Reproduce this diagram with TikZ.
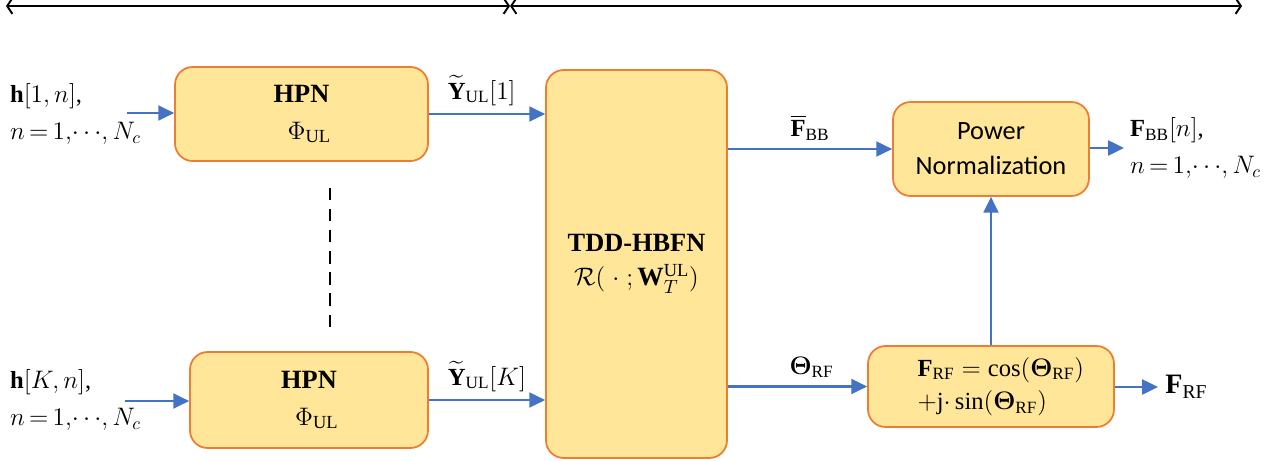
\documentclass[tikz,border=0pt]{standalone}
\usepackage{amsmath}
\usepackage{fontspec}
\setmainfont{Liberation Serif}
\newfontfamily\pnfont{Carlito}
\usepackage{xcolor}
\usetikzlibrary{arrows.meta}
\definecolor{boxfill}{HTML}{FFE699}
\definecolor{boxline}{HTML}{ED7D31}
\definecolor{sigblue}{HTML}{4472C4}

\begin{document}
\begin{tikzpicture}[x=0.02cm, y=-0.02cm, font=\fontsize{14}{17}\selectfont,
    blk/.style={draw=boxline, fill=boxfill, line width=1pt, rounded corners=10pt, align=center},
    sig/.style={-{Triangle[length=9pt,width=8.5pt]}, draw=sigblue, line width=1.2pt},
    spanline/.style={{Straight Barb[length=3pt,width=9pt]}-{Straight Barb[length=3pt,width=9pt]}, line width=1.1pt}]
    \useasboundingbox (0,0) rectangle (1265,460);

    % Span arrows on top
    \coordinate (spanL) at (6,6);
    \coordinate (spanM) at (510,6);
    \coordinate (spanR) at (1242,6);
    \draw[spanline] (spanL) -- (spanM);
    \draw[spanline] (spanM) -- (spanR);

    % HPN blocks
    \node[blk, minimum width=5.06cm, minimum height=1.88cm, font=\fontsize{15}{21}\selectfont] (hpnA) at (301.5,114) {\textbf{HPN}\\ \hspace*{0.6em}$\Phi_{\mathrm{UL}}$};
    \node[blk, minimum width=4.76cm, minimum height=1.92cm, font=\fontsize{15}{21}\selectfont] (hpnB) at (309,400) {\textbf{HPN}\\ \hspace*{0.6em}$\Phi_{\mathrm{UL}}$};

    % TDD network
    \node[blk, minimum width=3.62cm, minimum height=7.76cm, font=\fontsize{15}{19}\selectfont] (tdd) at (636.5,264) {\textbf{TDD-HBFN}\\ $\mathcal{R}(\;\cdot\;;\mathbf{W}_T^{\mathrm{UL}})$};

    % Power normalization and RF precoder
    \node[blk, minimum width=3.92cm, minimum height=1.88cm, font=\pnfont\fontsize{15}{20}\selectfont] (pn) at (991,149) {Power\\Normalization};
    \node[blk, minimum width=4.92cm, minimum height=1.62cm, align=left, font=\fontsize{14}{19}\selectfont] (frf) at (991,386.5) {\hspace*{0.8em}$\mathbf{F}_{\mathrm{RF}}=\cos(\boldsymbol{\Theta}_{\mathrm{RF}})$\\ \hspace*{0.8em}$+\mathrm{j}{\cdot}\sin(\boldsymbol{\Theta}_{\mathrm{RF}})$};

    % Inputs
    \node[anchor=west, align=left, font=\fontsize{14}{21}\selectfont] (inA) at (4,114) {$\mathbf{h}[1,n]$,\\ $n\,{=}\,1,\!\cdots\!,N_c$};
    \node[anchor=west, align=left, font=\fontsize{14}{21}\selectfont] (inB) at (4,400) {$\mathbf{h}[K,n]$,\\ $n\,{=}\,1,\!\cdots\!,N_c$};
    \coordinate (srcA) at (127,113);
    \coordinate (srcB) at (125,401);
    \draw[sig] (srcA) -- (srcA -| hpnA.west);
    \draw[sig] (srcB) -- (srcB -| hpnB.west);

    % Dashed line between HPN blocks
    \coordinate (dotsTop) at (330,188);
    \coordinate (dotsBot) at (330,335);
    \draw[line width=1.1pt, dash pattern=on 7pt off 5pt] (dotsTop) -- (dotsBot);

    % HPN outputs
    \draw[sig] (hpnA.east) -- (hpnA.east -| tdd.west) node[midway, above=1pt, xshift=-3pt] (lblYA) {$\widetilde{\mathbf{Y}}_{\mathrm{UL}}[1]$};
    \draw[sig] (hpnB.east) -- (hpnB.east -| tdd.west) node[midway, above=1pt] (lblYB) {$\widetilde{\mathbf{Y}}_{\mathrm{UL}}[K]$};

    % TDD outputs
    \draw[sig] (tdd.east |- pn.west) -- (pn.west) node[midway, above=1pt] (lblFBB) {$\overline{\mathbf{F}}_{\mathrm{BB}}$};
    \draw[sig] (tdd.east |- frf.west) -- (frf.west) node[midway, above=1pt, xshift=8pt] (lblTheta) {$\boldsymbol{\Theta}_{\mathrm{RF}}$};
    \draw[sig] (frf.north) -- (pn.south);

    % Outputs
    \coordinate (outBB) at (1124,148);
    \coordinate (outRF) at (1158,387);
    \draw[sig] (pn.east |- outBB) -- (outBB);
    \draw[sig] (frf.east |- outRF) -- (outRF);
    \node[anchor=west, align=left, font=\fontsize{14}{21}\selectfont] (lblOutBB) at (outBB) {$\mathbf{F}_{\mathrm{BB}}[n]$,\\ $n\,{=}\,1,\!\cdots\!,N_c$};
    \node[anchor=west, inner sep=4pt, font=\fontsize{16}{19}\selectfont] (lblOutRF) at (outRF) {$\mathbf{F}_{\mathrm{RF}}$};
\end{tikzpicture}
\end{document}
